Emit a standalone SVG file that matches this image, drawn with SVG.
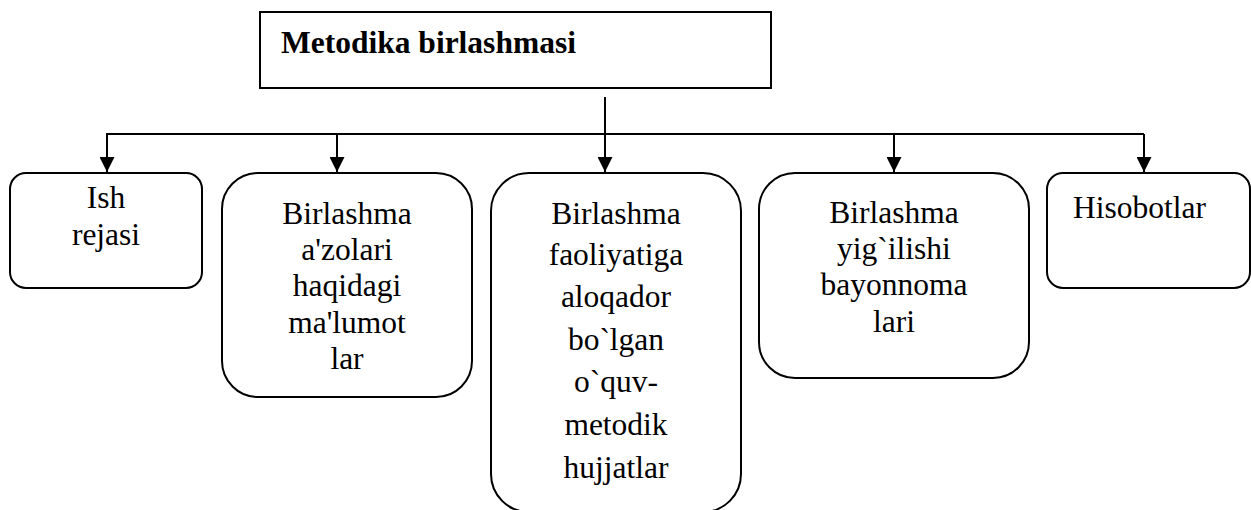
<svg xmlns="http://www.w3.org/2000/svg" width="1251" height="510" viewBox="0 0 1251 510">
<style>
.box{fill:#fff;stroke:#000;stroke-width:2}
.t{font-family:"Liberation Serif","Times New Roman",serif;font-size:31.5px;fill:#000;text-anchor:middle}
.title{font-family:"Liberation Serif","Times New Roman",serif;font-size:31.5px;font-weight:bold;fill:#000}
.ln{fill:none;stroke:#000;stroke-width:2}
</style>
<defs>
<marker id="ah" markerWidth="15" markerHeight="15" refX="15" refY="7.5" orient="auto" markerUnits="userSpaceOnUse" viewBox="0 0 15 15">
<path d="M0,0 L15,7.5 L0,15 Z" fill="#000"/>
</marker>
</defs>
<g id="connectors">
<line class="ln" x1="605" y1="97" x2="605" y2="172" marker-end="url(#ah)"/>
<line class="ln" x1="106" y1="134" x2="1144" y2="134"/>
<line class="ln" x1="107" y1="134" x2="107" y2="172" marker-end="url(#ah)"/>
<line class="ln" x1="337" y1="134" x2="337" y2="172" marker-end="url(#ah)"/>
<line class="ln" x1="894" y1="134" x2="894" y2="172" marker-end="url(#ah)"/>
<line class="ln" x1="1144" y1="134" x2="1144" y2="172" marker-end="url(#ah)"/>
</g>
<g id="top">
<rect class="box" x="260" y="12" width="511" height="76"/>
<text class="title" x="281" y="53">Metodika birlashmasi</text>
</g>
<g id="n1">
<rect class="box" x="10" y="173" width="192" height="115" rx="16"/>
<text class="t" x="106" y="208">Ish</text>
<text class="t" x="106" y="245">rejasi</text>
</g>
<g id="n2">
<rect class="box" x="222" y="173" width="250" height="224" rx="36"/>
<text class="t" x="347" y="224">Birlashma</text>
<text class="t" x="347" y="260">a'zolari</text>
<text class="t" x="347" y="296">haqidagi</text>
<text class="t" x="347" y="333">ma'lumot</text>
<text class="t" x="347" y="369">lar</text>
</g>
<g id="n3">
<rect class="box" x="491" y="173" width="250" height="339" rx="38"/>
<text class="t" x="616" y="224">Birlashma</text>
<text class="t" x="616" y="265">faoliyatiga</text>
<text class="t" x="616" y="307">aloqador</text>
<text class="t" x="616" y="350">bo`lgan</text>
<text class="t" x="616" y="392">o`quv-</text>
<text class="t" x="616" y="435">metodik</text>
<text class="t" x="616" y="478">hujjatlar</text>
</g>
<g id="n4">
<rect class="box" x="759" y="173" width="270" height="205" rx="36"/>
<text class="t" x="894" y="223">Birlashma</text>
<text class="t" x="894" y="259">yig`ilishi</text>
<text class="t" x="894" y="295">bayonnoma</text>
<text class="t" x="894" y="332">lari</text>
</g>
<g id="n5">
<rect class="box" x="1047" y="173" width="203" height="115" rx="16"/>
<text class="t" x="1073" y="218" style="text-anchor:start">Hisobotlar</text>
</g>
</svg>
